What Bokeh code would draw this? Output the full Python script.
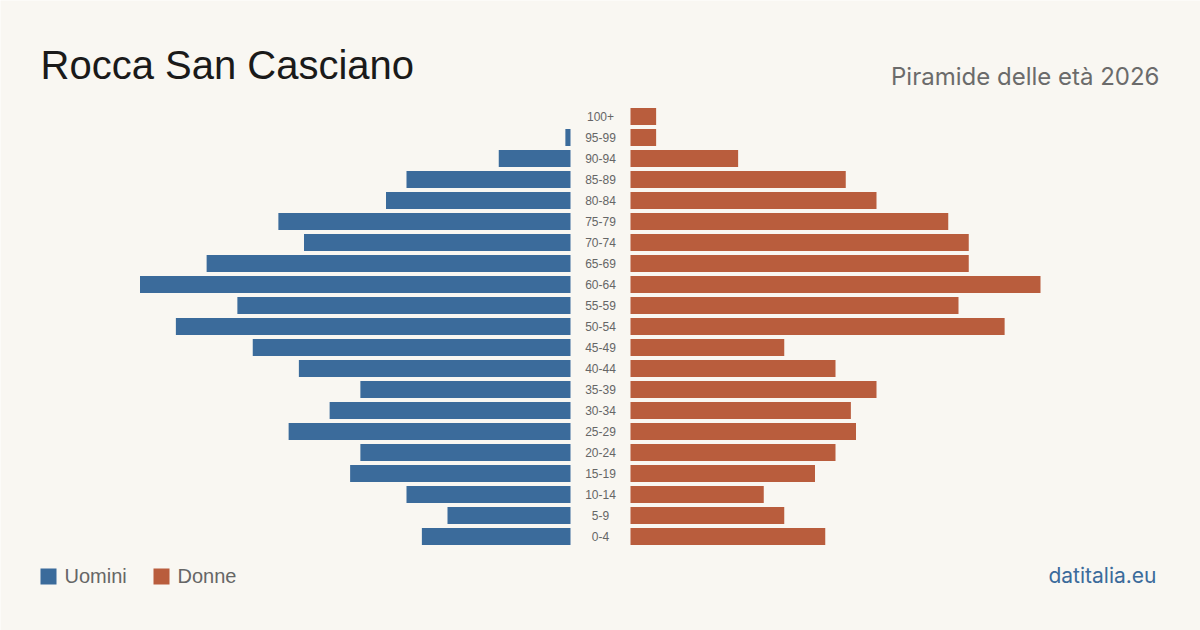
from bokeh.plotting import figure
from bokeh.models import Range1d, Label, ColumnDataSource
from bokeh.embed import file_html
from bokeh.resources import INLINE
from bokeh.core.properties import value

# ---- data (bottom to top) ----
age_groups = ["0-4", "5-9", "10-14", "15-19", "20-24", "25-29", "30-34", "35-39",
              "40-44", "45-49", "50-54", "55-59", "60-64", "65-69", "70-74", "75-79",
              "80-84", "85-89", "90-94", "95-99", "100+"]
males = [29, 24, 32, 43, 41, 55, 47, 41, 53, 62, 77, 65, 84, 71, 52, 57, 36, 32, 14, 1, 0]
females = [38, 30, 26, 36, 40, 44, 43, 48, 40, 30, 73, 64, 80, 66, 66, 62, 48, 42, 21, 5, 5]
title_text = "Rocca San Casciano"
subtitle_text = "Piramide delle età 2026"
legend_labels = ["Uomini", "Donne"]
source_text = "datitalia.eu"

BLUE = "#3b6b9b"
ORANGE = "#b95d3d"
BG = "#f9f7f2"

W, H = 1200, 630
PX = 5.125        # pixels per person
ROW = 21.0        # pixels per age row
Y0 = 536.0        # pixel centre of first row
GAP = 30 / PX     # half gap for labels, in data units

def sx(px):
    return (px - W / 2) / PX

def sy(py):
    return (Y0 - py) / ROW

idx = list(range(len(age_groups)))
src = ColumnDataSource(dict(
    y=idx,
    label=age_groups,
    m_left=[-GAP - m for m in males],
    m_right=[-GAP] * len(males),
    f_left=[GAP] * len(females),
    f_right=[GAP + f for f in females],
    zero=[0] * len(idx),
))

p = figure(width=W, height=H, output_backend="svg", toolbar_location=None,
           x_range=Range1d(sx(0), sx(W)), y_range=Range1d(sy(H), sy(0)),
           x_axis_location=None, y_axis_location=None, min_border=0,
           background_fill_color=BG, border_fill_color=BG, outline_line_color=None)
p.grid.visible = False

p.hbar(y="y", left="m_left", right="m_right", height=17 / ROW, source=src,
       fill_color=BLUE, line_color=None)
p.hbar(y="y", left="f_left", right="f_right", height=17 / ROW, source=src,
       fill_color=ORANGE, line_color=None)
p.text(x="zero", y="y", text="label", source=src, text_align="center",
       text_baseline="middle", text_font=value("Liberation Sans"),
       text_font_size="12px", text_color="#666666")

p.add_layout(Label(x=sx(40), y=sy(64), text=title_text, text_font="Liberation Sans",
                   text_font_size="40px", text_color="#1a1a1a", text_baseline="alphabetic"))
p.add_layout(Label(x=sx(1159), y=sy(76), text=subtitle_text, text_font="Inter",
                   text_font_size="24px", text_color="#6b6b6b", text_align="right",
                   text_baseline="alphabetic"))

# legend
for (lx, col, lab) in [(40, BLUE, legend_labels[0]), (153, ORANGE, legend_labels[1])]:
    p.rect(x=[sx(lx + 8)], y=[sy(576)], width=16 / PX, height=16 / ROW,
           fill_color=col, line_color=None)
    p.add_layout(Label(x=sx(lx + 24), y=sy(575), text=lab, text_font="Liberation Sans",
                       text_font_size="20px", text_color="#666666",
                       text_baseline="alphabetic"))

p.add_layout(Label(x=sx(1156), y=sy(575), text=source_text, text_font="Inter",
                   text_font_size="21px", text_color="#3b6b9b", text_align="right",
                   text_baseline="alphabetic"))

open("out.html", "w").write(file_html(p, INLINE))
